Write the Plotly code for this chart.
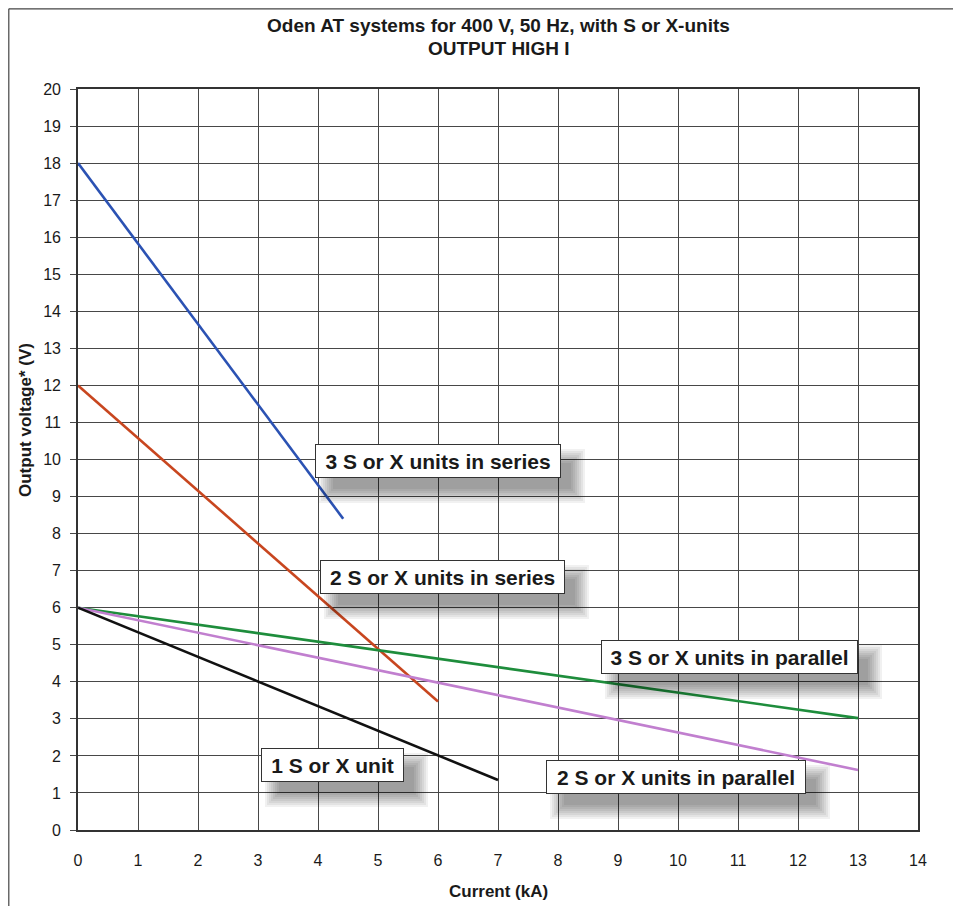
import plotly.graph_objects as go

# ---- data ----
current_1_unit = [0, 7]
voltage_1_unit = [6.0, 1.35]

current_2_par = [0, 13]
voltage_2_par = [6.0, 1.62]

current_3_par = [0, 13]
voltage_3_par = [6.0, 3.02]

current_2_ser = [0, 6]
voltage_2_ser = [12.0, 3.47]

current_3_ser = [0, 4.42]
voltage_3_ser = [18.0, 8.4]

x_ticks = list(range(0, 15))
y_ticks = list(range(0, 21))

label_texts = ["3 S or X units in series", "2 S or X units in series",
               "3 S or X units in parallel", "1 S or X unit",
               "2 S or X units in parallel"]
label_x = [6.0, 6.07, 10.86, 4.24, 9.97]
label_y = [9.95, 6.84, 4.66, 1.75, 1.42]
label_w = [236, 235, 247, 133, 250]

FONT = "Liberation Sans, Arial, sans-serif"

# layout geometry (page body has an 8px margin)
ML, MT, PW, PH = 70, 81, 840, 741
W, H = 953, 898

fig = go.Figure()
series = [
    (current_3_ser, voltage_3_ser, "#2b52b3"),
    (current_2_ser, voltage_2_ser, "#c8461f"),
    (current_3_par, voltage_3_par, "#1e8d3c"),
    (current_2_par, voltage_2_par, "#c17fcf"),
    (current_1_unit, voltage_1_unit, "#111111"),
]
for xs, ys, col in series:
    fig.add_trace(go.Scatter(x=xs, y=ys, mode="lines",
                             line=dict(color=col, width=2.6),
                             showlegend=False, hoverinfo="skip"))

annotations = []
# soft drop shadows (empty boxes)
for t, x, y, w in zip(label_texts, label_x, label_y, label_w):
    for k in range(8):
        pad = 1 + 2 * k
        annotations.append(dict(
            x=x, y=y, xref="x", yref="y", text="&nbsp;", showarrow=False,
            font=dict(family=FONT, size=21, color="rgba(0,0,0,0)"),
            bgcolor="rgba(0,0,0,0.055)", borderpad=pad, borderwidth=0,
            width=w, height=24, xshift=14, yshift=-15))
# label boxes
for t, x, y, w in zip(label_texts, label_x, label_y, label_w):
    annotations.append(dict(
        x=x, y=y, xref="x", yref="y", text="<b>%s</b>" % t, showarrow=False,
        font=dict(family=FONT, size=21, color="#1a1a1a"),
        bgcolor="white", bordercolor="#333333", borderwidth=1, borderpad=4,
        width=w, height=24))

# axis titles
annotations.append(dict(x=0.5, y=-(891 - 830) / PH, xref="paper", yref="paper",
                        text="<b>Current (kA)</b>", showarrow=False,
                        font=dict(family=FONT, size=17, color="#1a1a1a"),
                        yanchor="middle"))
annotations.append(dict(x=(25 - 78) / PW, y=(830 - 420) / PH, xref="paper", yref="paper",
                        text="<b>Output voltage* (V)</b>", showarrow=False,
                        textangle=-90,
                        font=dict(family=FONT, size=17, color="#1a1a1a"),
                        xanchor="center", yanchor="middle"))
# title (two lines)
annotations.append(dict(x=0.5, y=(830 - 26) / PH, xref="paper", yref="paper",
                        text="<b>Oden AT systems for 400 V, 50 Hz, with S or X-units</b>",
                        showarrow=False,
                        font=dict(family=FONT, size=19, color="#1a1a1a"),
                        xanchor="center", yanchor="middle"))
annotations.append(dict(x=0.5, y=(830 - 48) / PH, xref="paper", yref="paper",
                        text="<b>OUTPUT HIGH I</b>",
                        showarrow=False,
                        font=dict(family=FONT, size=19, color="#1a1a1a"),
                        xanchor="center", yanchor="middle"))

edge_x = (-ML + 0.8) / PW
edge_y = 1 + (MT - 0.8) / PH
shapes = [
    dict(type="line", xref="paper", yref="paper",
         x0=edge_x, x1=(W - ML) / PW, y0=edge_y, y1=edge_y,
         line=dict(color="#444444", width=1.2)),
    dict(type="line", xref="paper", yref="paper",
         x0=edge_x, x1=edge_x, y0=edge_y, y1=-(H - MT - PH) / PH,
         line=dict(color="#444444", width=1.2)),
]

fig.update_layout(
    width=W, height=H,
    margin=dict(l=ML, r=W - ML - PW, t=MT, b=H - MT - PH, autoexpand=False),
    paper_bgcolor="white", plot_bgcolor="white",
    annotations=annotations, shapes=shapes,
    font=dict(family=FONT, color="#1a1a1a"),
)
fig.update_xaxes(range=[0, 14], tickvals=x_ticks, ticktext=[str(v) for v in x_ticks],
                 showgrid=True, gridcolor="#474747", gridwidth=1.4,
                 showline=True, linecolor="#333333", linewidth=1.6, mirror=True,
                 ticks="outside", ticklen=8, tickcolor="rgba(0,0,0,0)",
                 ticklabelstandoff=7,
                 tickfont=dict(family=FONT, size=16, color="#1a1a1a"),
                 zeroline=False, fixedrange=True)
fig.update_yaxes(range=[0, 20], tickvals=y_ticks, ticktext=[str(v) for v in y_ticks],
                 showgrid=True, gridcolor="#474747", gridwidth=1.4,
                 showline=True, linecolor="#333333", linewidth=1.6, mirror=True,
                 ticks="outside", ticklen=6, tickcolor="#474747", tickwidth=1.4,
                 ticklabelstandoff=6,
                 tickfont=dict(family=FONT, size=16, color="#1a1a1a"),
                 zeroline=False, fixedrange=True)

fig.write_html("out.html")
